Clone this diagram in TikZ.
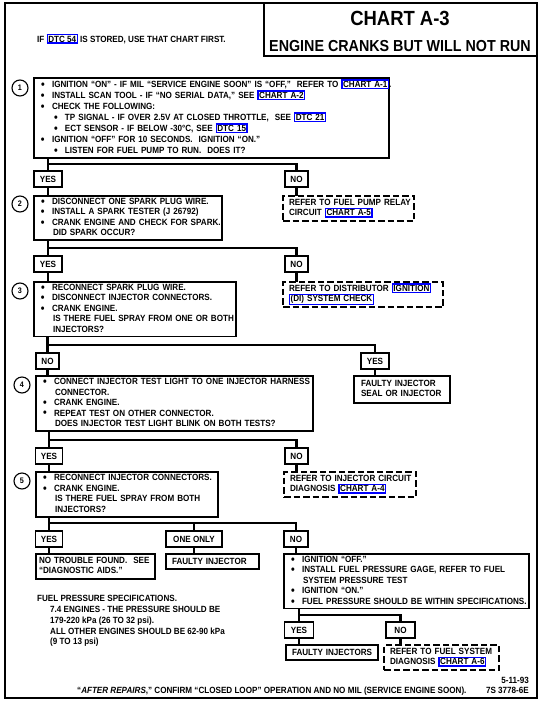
\documentclass[tikz,border=0pt]{standalone}
\usepackage{fontspec}
\setmainfont{Liberation Sans}[FakeStretch=0.9]
\newcommand\bu{\makebox[11pt][l]{\raisebox{-0.8pt}{\scalebox{1.3}{\textbullet}}}}
\newcommand\sbu{\hspace*{13pt}\bu}
\newcommand\cnt{\hspace*{12pt}}
\newcommand\lnk[1]{{\setlength\fboxsep{0.4pt}\setlength\fboxrule{1.3pt}\smash{\fcolorbox{blue}{white}{#1}}}}
\newcommand\rows[1]{\noindent\begin{tabular}{@{}l@{}}#1\end{tabular}}
\begin{document}
\begin{tikzpicture}[x=1pt,y=-1pt,
  txt/.style={font=\bfseries\fontsize{9}{10.5}\selectfont},
  box/.style={txt,draw,line width=1.1pt,anchor=north west,inner xsep=7pt,inner ysep=1pt,outer sep=0pt,align=left},
  dbox/.style={box,dash pattern=on 6.5pt off 3pt,inner xsep=6pt},
  lab/.style={txt,draw,line width=1.1pt,inner sep=0pt,minimum height=16pt,outer sep=0pt},
  circ/.style={draw,circle,line width=1.1pt,minimum size=16pt,inner sep=0pt,font=\bfseries\fontsize{8}{8}\selectfont},
  conn/.style={line width=2.7pt},
]
\fill[white] (0,0) rectangle (544,702);
\path[use as bounding box] (0,0) rectangle (544,702);
\draw[line width=1.2pt] (5,3) rectangle (537,698);

% title
\node[draw,line width=1.2pt,anchor=north west,minimum width=273pt,minimum height=53pt,outer sep=0pt] (tb) at (264,3) {};
\node[font=\bfseries\fontsize{20.5}{22}\selectfont] (t1) at (400,18) {CHART A-3};
\node[font=\bfseries\fontsize{15.9}{18}\selectfont] (t2) at (400,46) {ENGINE CRANKS BUT WILL NOT RUN};
\node[txt,anchor=base west,inner sep=0pt] (note) at (37,42) {IF \lnk{DTC 54} IS STORED, USE THAT CHART FIRST.};

% step 1
\node[circ] (c1) at (20,88) {1};
\node[box,text width=341pt,minimum height=80pt,font=\bfseries\fontsize{9}{11}\selectfont] (b1) at (34,78) {\rows{%
\bu IGNITION “ON” - IF MIL “SERVICE ENGINE SOON” IS “OFF,”\ \ REFER TO \lnk{CHART A-1}.\\
\bu INSTALL SCAN TOOL - IF “NO SERIAL DATA,” SEE \lnk{CHART A-2}\\
\bu CHECK THE FOLLOWING:\\
\sbu TP SIGNAL - IF OVER 2.5V AT CLOSED THROTTLE,\ \ SEE \lnk{DTC 21}\\
\sbu ECT SENSOR - IF BELOW -30°C, SEE \lnk{DTC 15}\\
\bu IGNITION “OFF” FOR 10 SECONDS.\ \ IGNITION “ON.”\\
\sbu LISTEN FOR FUEL PUMP TO RUN.\ \ DOES IT?}};
\node[lab,minimum width=28pt] (y1) at (48,179) {YES};
\node[lab,minimum width=23pt] (n1) at (296.5,179) {NO};
\coordinate (j1) at (48,164);
\draw[conn] (b1.south -| j1) -- (j1) -| (n1.north);
\draw[conn] (j1) -- (y1.north);

% step 2
\node[circ] (c2) at (20,204) {2};
\node[box,text width=174pt,minimum height=44pt] (b2) at (34,196) {\rows{%
\bu DISCONNECT ONE SPARK PLUG WIRE.\\
\bu INSTALL A SPARK TESTER (J 26792)\\
\bu CRANK ENGINE AND CHECK FOR SPARK.\\
\cnt DID SPARK OCCUR?}};
\node[dbox,text width=119pt,minimum height=25pt] (d2) at (283,196) {\rows{REFER TO FUEL PUMP RELAY\\CIRCUIT \lnk{CHART A-5}}};
\draw[conn] (y1.south) -- (y1.south |- b2.north);
\draw[conn] (n1.south) -- (n1.south |- d2.north);

\node[lab,minimum width=28pt] (y2) at (48,264) {YES};
\node[lab,minimum width=23pt] (n2) at (296.5,264) {NO};
\coordinate (j2) at (48,248);
\draw[conn] (b2.south -| j2) -- (j2) -| (n2.north);
\draw[conn] (j2) -- (y2.north);

% step 3
\node[circ] (c3) at (20,291) {3};
\node[box,text width=188pt,minimum height=54pt] (b3) at (34,282) {\rows{%
\bu RECONNECT SPARK PLUG WIRE.\\
\bu DISCONNECT INJECTOR CONNECTORS.\\
\bu CRANK ENGINE.\\
\cnt IS THERE FUEL SPRAY FROM ONE OR BOTH\\
\cnt INJECTORS?}};
\node[dbox,text width=148pt,minimum height=25pt] (d3) at (283,282) {\rows{REFER TO DISTRIBUTOR \lnk{IGNITION}\\\lnk{(DI) SYSTEM CHECK}}};
\draw[conn] (y2.south) -- (y2.south |- b3.north);
\draw[conn] (n2.south) -- (n2.south |- d3.north);

\node[lab,minimum width=23pt] (n3) at (47.5,361) {NO};
\node[lab,minimum width=28pt] (y3) at (375,361) {YES};
\coordinate (j3) at (47.5,345);
\draw[conn] (b3.south -| j3) -- (j3) -| (y3.north);
\draw[conn] (j3) -- (n3.north);
\node[box,text width=82pt,minimum height=27pt] (fs) at (354,376) {\rows{FAULTY INJECTOR\\SEAL OR INJECTOR}};
\draw[conn] (y3.south) -- (y3.south |- fs.north);

% step 4
\node[circ] (c4) at (22,385) {4};
\node[box,text width=263pt,minimum height=55pt] (b4) at (36,376) {\rows{%
\bu CONNECT INJECTOR TEST LIGHT TO ONE INJECTOR HARNESS\\
\cnt CONNECTOR.\\
\bu CRANK ENGINE.\\
\bu REPEAT TEST ON OTHER CONNECTOR.\\
\cnt DOES INJECTOR TEST LIGHT BLINK ON BOTH TESTS?}};
\draw[conn] (n3.south) -- (n3.south |- b4.north);

\node[lab,minimum width=27pt] (y4) at (49,456) {YES};
\node[lab,minimum width=23pt] (n4) at (296.5,456) {NO};
\coordinate (j4) at (49,440);
\draw[conn] (b4.south -| j4) -- (j4) -| (n4.north);
\draw[conn] (j4) -- (y4.north);

% step 5
\node[circ] (c5) at (22,481) {5};
\node[box,text width=168pt,minimum height=45pt] (b5) at (36,472) {\rows{%
\bu RECONNECT INJECTOR CONNECTORS.\\
\bu CRANK ENGINE.\\
\cnt IS THERE FUEL SPRAY FROM BOTH\\
\cnt INJECTORS?}};
\node[dbox,text width=120pt,minimum height=25pt] (d5) at (284,472) {\rows{REFER TO INJECTOR CIRCUIT\\DIAGNOSIS \lnk{CHART A-4}}};
\draw[conn] (y4.south) -- (y4.south |- b5.north);
\draw[conn] (n4.south) -- (n4.south |- d5.north);

\node[lab,minimum width=27pt] (y5) at (49,539) {YES};
\node[lab,minimum width=56pt] (o5) at (194,539) {ONE ONLY};
\node[lab,minimum width=24pt] (n5) at (296,539) {NO};
\coordinate (j5) at (49,523);
\draw[conn] (b5.south -| j5) -- (j5) -| (n5.north);
\draw[conn] (j5) -- (y5.north);
\draw[conn] (o5.north |- j5) -- (o5.north);

% step 6
\node[box,inner xsep=3pt,text width=113pt,minimum height=25pt] (nt) at (36,554) {\rows{NO TROUBLE FOUND.\ \ SEE\\“DIAGNOSTIC AIDS.”}};
\node[box,inner xsep=6pt,text width=81pt,minimum height=15pt] (fi) at (166,554) {\mbox{FAULTY INJECTOR}};
\node[box,text width=231pt,minimum height=54pt] (bn) at (284,554) {\rows{%
\bu IGNITION “OFF.”\\
\bu INSTALL FUEL PRESSURE GAGE, REFER TO FUEL\\
\cnt SYSTEM PRESSURE TEST\\
\bu IGNITION “ON.”\\
\bu FUEL PRESSURE SHOULD BE WITHIN SPECIFICATIONS.}};
\draw[conn] (y5.south) -- (y5.south |- nt.north);
\draw[conn] (o5.south) -- (o5.south |- fi.north);
\draw[conn] (n5.south) -- (n5.south |- bn.north);

\node[lab,minimum width=29pt] (y6) at (299,630) {YES};
\node[lab,minimum width=29pt] (n6) at (400.5,630) {NO};
\coordinate (j6) at (299,615);
\draw[conn] (bn.south -| j6) -- (j6) -| (n6.north);
\draw[conn] (j6) -- (y6.north);
\node[box,inner xsep=6pt,text width=80pt,minimum height=15pt] (fis) at (286,645) {\mbox{FAULTY INJECTORS}};
\node[dbox,text width=103pt,minimum height=25pt] (d6) at (384,645) {\rows{REFER TO FUEL SYSTEM\\DIAGNOSIS \lnk{CHART A-6}}};
\draw[conn] (y6.south) -- (y6.south |- fis.north);
\draw[conn] (n6.south) -- (n6.south |- d6.north);

% notes
\node[anchor=north west,inner sep=0pt,font=\bfseries\fontsize{9}{10.8}\selectfont] (fp) at (37,594) {\rows{%
FUEL PRESSURE SPECIFICATIONS.\\
\hspace*{13pt}7.4 ENGINES - THE PRESSURE SHOULD BE\\
\hspace*{13pt}179-220 kPa (26 TO 32 psi).\\
\hspace*{13pt}ALL OTHER ENGINES SHOULD BE 62-90 kPa\\
\hspace*{13pt}(9 TO 13 psi)}};
\node[txt,anchor=base west,inner sep=0pt] (ft) at (77,693) {“\textit{AFTER REPAIRS},” CONFIRM “CLOSED LOOP” OPERATION AND NO MIL (SERVICE ENGINE SOON).};
\node[txt,anchor=base east,inner sep=0pt] (dt) at (529,683) {5-11-93};
\node[txt,anchor=base east,inner sep=0pt] (id) at (529,693) {7S 3778-6E};
\end{tikzpicture}
\end{document}
